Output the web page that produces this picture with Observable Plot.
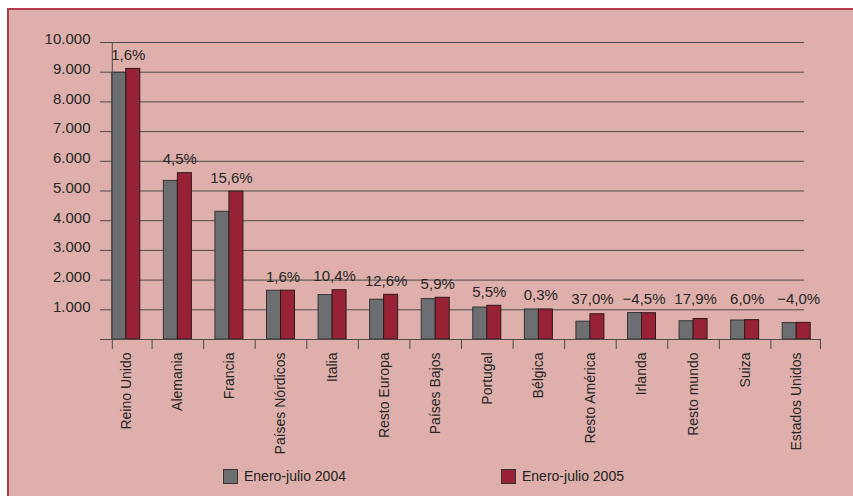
<!DOCTYPE html>
<html>
<head>
<meta charset="utf-8">
<script src="https://cdn.jsdelivr.net/npm/d3@7"></script>
<script src="https://cdn.jsdelivr.net/npm/@observablehq/plot@0.6"></script>
<style>
  html, body { margin: 0; padding: 0; background: #ffffff; overflow: hidden; }
  #bg { position: absolute; left: 7px; top: 8px; width: 846px; height: 488px;
        background: #dfb0ab; border-top: 2px solid #b23a4a; border-left: 2px solid #b23a4a; box-sizing: border-box; }
  #chart { position: absolute; left: 0; top: 0; }
  .leg { position: absolute; top: 468px; font-family: "Liberation Sans", Arial, sans-serif; font-size: 14px; color: #222; display: flex; align-items: center; }
  .sw { width: 13px; height: 13px; border: 1px solid #333; margin-right: 6px; }
</style>
</head>
<body>
<div id="bg"></div>
<div id="chart"></div>
<div id="legend"></div>
<script>
const categories = ["Reino Unido","Alemania","Francia","Países Nórdicos","Italia","Resto Europa","Países Bajos","Portugal","Bélgica","Resto América","Irlanda","Resto mundo","Suiza","Estados Unidos"];
const v2004 = [8980, 5340, 4300, 1640, 1495, 1340, 1360, 1077, 1010, 600, 890, 615, 640, 552];
const v2005 = [9110, 5600, 4980, 1645, 1660, 1505, 1405, 1135, 1012, 850, 885, 690, 652, 560];
const pctLabels = ["1,6%","4,5%","15,6%","1,6%","10,4%","12,6%","5,9%","5,5%","0,3%","37,0%","−4,5%","17,9%","6,0%","−4,0%"];
const yTicks = [1000,2000,3000,4000,5000,6000,7000,8000,9000,10000];
const yTickLabels = ["1.000","2.000","3.000","4.000","5.000","6.000","7.000","8.000","9.000","10.000"];
const seriesNames = ["Enero-julio 2004","Enero-julio 2005"];
const seriesColors = ["#6c6e72","#982235"];

const rows = categories.map((c, i) => ({cat: c, v04: v2004[i], v05: v2005[i], pct: pctLabels[i]}));

const W = 853, H = 458;
const mL = 100, mR = 31, mT = 42, yZero = 339;
const step = (W - mL - mR) / categories.length;
const barW = 14;
const side = (step - 2 * barW) / 2;
const font = "'Liberation Sans', Arial, sans-serif";
const ink = "#262626";
const gridInk = "#4a4a4a";

const chart = Plot.plot({
  width: W, height: H,
  marginLeft: mL, marginRight: mR, marginTop: mT, marginBottom: H - yZero,
  x: {domain: categories, padding: 0, round: false, axis: null, label: null},
  y: {domain: [0, 10000], axis: null, label: null},
  style: {background: "transparent", fontFamily: font, color: ink, overflow: "visible"},
  marks: [
    Plot.ruleY(yTicks, {y: d => d, stroke: gridInk, strokeWidth: 1, insetRight: 18}),
    Plot.barY(rows, {x: "cat", y: "v04", fill: seriesColors[0], stroke: "#333", strokeWidth: 1, insetLeft: side, insetRight: side + barW}),
    Plot.barY(rows, {x: "cat", y: "v05", fill: seriesColors[1], stroke: "#2a1a1c", strokeWidth: 1, insetLeft: side + barW, insetRight: side}),
    Plot.ruleY([0], {stroke: gridInk, strokeWidth: 1.2, insetRight: 2}),
    Plot.ruleX([categories[0]], {x: d => d, dx: -barW, y1: 0, y2: 10000, stroke: gridInk, strokeWidth: 1}),
    Plot.axisX({ticks: categories.slice(1), dx: -step / 2, tickSize: 10, tickFormat: () => "", stroke: gridInk, label: null}),
    Plot.axisX({ticks: [categories[0]], dx: -barW, tickSize: 10, tickFormat: () => "", stroke: gridInk, label: null}),
    Plot.axisX({ticks: [categories[categories.length - 1]], dx: step / 2 - 2, tickSize: 10, tickFormat: () => "", stroke: gridInk, label: null}),
    Plot.axisX({tickSize: 0, tickRotate: -90, tickPadding: 13, fontSize: 14, fill: ink, label: null}),
    Plot.axisY(yTicks, {tickSize: 0, tickPadding: 10, fontSize: 15, dy: -3, fill: ink, label: null,
      tickFormat: d => yTickLabels[yTicks.indexOf(d)]}),
    Plot.text(rows, {x: "cat", y: d => Math.max(d.v04, d.v05, 900), text: "pct", dy: -9, dx: 2,
      lineAnchor: "bottom", fontSize: 15, fill: ink})
  ]
});
document.getElementById("chart").appendChild(chart);

const legend = document.getElementById("legend");
const legLeft = [223, 501];
seriesNames.forEach((name, i) => {
  const item = document.createElement("div");
  item.className = "leg";
  item.style.left = legLeft[i] + "px";
  const sw = document.createElement("div");
  sw.className = "sw";
  sw.style.background = seriesColors[i];
  const t = document.createElement("span");
  t.textContent = name;
  item.appendChild(sw);
  item.appendChild(t);
  legend.appendChild(item);
});
</script>
</body>
</html>
